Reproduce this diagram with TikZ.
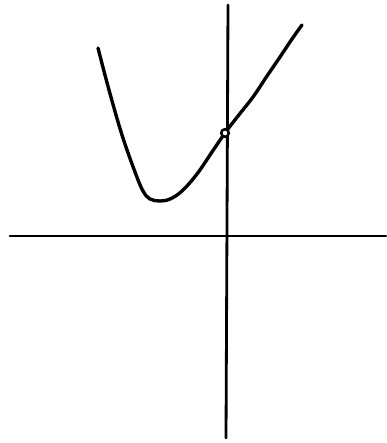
\documentclass[tikz,border=0pt]{standalone}
\usetikzlibrary{positioning}

\begin{document}
\begin{tikzpicture}[
    x=0.25mm, y=-0.25mm,
    axisline/.style={line width=2pt, black, line cap=round},
    curveline/.style={line width=2.4pt, black, line cap=round, line join=round},
    ydot/.style={circle, draw=black, line width=1.8pt, fill=white,
        minimum size=1.9mm, inner sep=0pt},
]

% page size (pixel grid of the sketch)
\useasboundingbox (0,0) rectangle (386,443);

% ====== AXES ======
\coordinate (xl) at (10,236);
\coordinate (xr) at (386,236);
\coordinate (yt) at (228,5);
\coordinate (yb) at (226,438);
\draw[axisline] (xl) -- (xr);
\draw[axisline] (yt) -- (yb);

% ====== CURVE ======
\draw[curveline] plot[smooth, tension=0.6] coordinates {
    (98,48) (109,90) (122,135) (135,172) (143,191) (150,199)
    (160,201) (170,199) (182,191) (197,174) (212,152)
    (225,133) (238,116) (253,97) (267,76) (280,57) (292,39) (302,25)};

% ====== Y-INTERCEPT ======
\node[ydot] (yint) at (225,133) {};

\end{tikzpicture}
\end{document}
